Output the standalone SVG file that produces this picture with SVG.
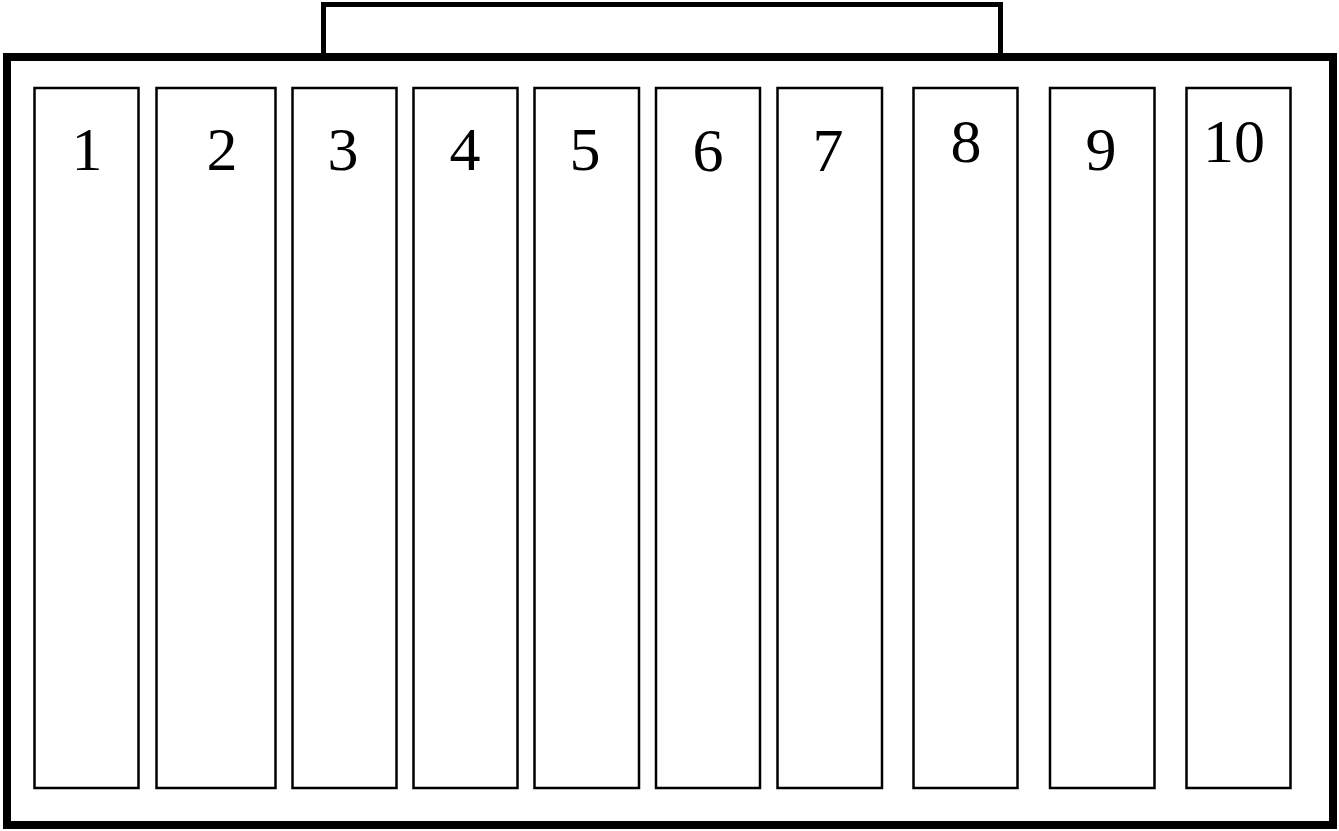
<svg xmlns="http://www.w3.org/2000/svg" width="1339" height="831" viewBox="0 0 1339 831">
<style>
.frame{fill:#fff;stroke:#000;stroke-width:8}
.tab{fill:#fff;stroke:#000;stroke-width:5}
.slot{fill:#fff;stroke:#000;stroke-width:2.5}
.lbl{font-family:"Liberation Serif","Times New Roman",serif;font-size:62px;fill:#000;text-anchor:middle}
</style>
<rect width="1339" height="831" fill="#fff"/>
<g id="tab"><rect class="tab" x="323.5" y="4.5" width="677" height="52.5"/></g>
<g id="frame"><rect class="frame" x="7" y="57" width="1326" height="768"/></g>
<g id="slot1"><rect class="slot" x="34.5" y="88" width="104" height="700"/><text class="lbl" x="87" y="170">1</text></g>
<g id="slot2"><rect class="slot" x="156.5" y="88" width="119" height="700"/><text class="lbl" x="222" y="170">2</text></g>
<g id="slot3"><rect class="slot" x="292.5" y="88" width="104" height="700"/><text class="lbl" x="343" y="170">3</text></g>
<g id="slot4"><rect class="slot" x="413.5" y="88" width="104" height="700"/><text class="lbl" x="465" y="170">4</text></g>
<g id="slot5"><rect class="slot" x="534.5" y="88" width="104.5" height="700"/><text class="lbl" x="585" y="170">5</text></g>
<g id="slot6"><rect class="slot" x="656" y="88" width="104" height="700"/><text class="lbl" x="708" y="171">6</text></g>
<g id="slot7"><rect class="slot" x="777.5" y="88" width="104.5" height="700"/><text class="lbl" x="828" y="171">7</text></g>
<g id="slot8"><rect class="slot" x="913.5" y="88" width="104" height="700"/><text class="lbl" x="966" y="162">8</text></g>
<g id="slot9"><rect class="slot" x="1050" y="88" width="104.5" height="700"/><text class="lbl" x="1101" y="170">9</text></g>
<g id="slot10"><rect class="slot" x="1186.5" y="88" width="104" height="700"/><text class="lbl" x="1234" y="162">10</text></g>
<g id="connectors"></g>
</svg>
